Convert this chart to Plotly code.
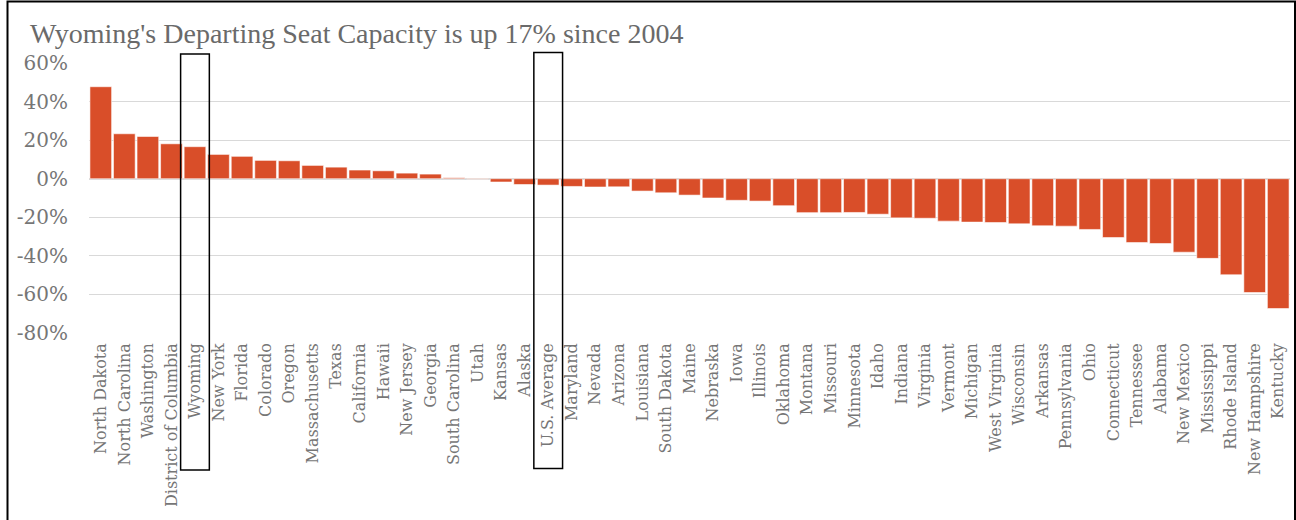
import plotly.graph_objects as go

# Change in departing seat capacity since 2004, by state (percent)
states = [
    "North Dakota", "North Carolina", "Washington", "District of Columbia", "Wyoming",
    "New York", "Florida", "Colorado", "Oregon", "Massachusetts", "Texas", "California",
    "Hawaii", "New Jersey", "Georgia", "South Carolina", "Utah", "Kansas", "Alaska",
    "U.S. Average", "Maryland", "Nevada", "Arizona", "Louisiana", "South Dakota", "Maine",
    "Nebraska", "Iowa", "Illinois", "Oklahoma", "Montana", "Missouri", "Minnesota", "Idaho",
    "Indiana", "Virginia", "Vermont", "Michigan", "West Virginia", "Wisconsin", "Arkansas",
    "Pennsylvania", "Ohio", "Connecticut", "Tennessee", "Alabama", "New Mexico",
    "Mississippi", "Rhode Island", "New Hampshire", "Kentucky",
]
change_pct = [
    47.7, 23.3, 21.9, 18.1, 16.6,
    12.6, 11.6, 9.5, 9.3, 6.9, 6.0, 4.5,
    4.1, 2.9, 2.4, 0.5, -0.2, -1.7, -3.0,
    -3.3, -4.0, -4.3, -4.2, -6.4, -7.3, -8.5,
    -10.0, -11.2, -11.6, -14.0, -17.6, -17.6, -17.5, -18.4,
    -20.3, -20.5, -22.0, -22.5, -22.7, -23.4, -24.4,
    -24.6, -26.3, -30.5, -33.1, -33.6, -38.1,
    -41.3, -49.8, -59.0, -67.3,
]
y_tick_vals = [60, 40, 20, 0, -20, -40, -60, -80]
y_tick_text = ["60%", "40%", "20%", "0%", "-20%", "-40%", "-60%", "-80%"]
highlighted = ["Wyoming", "U.S. Average"]

title_text = "Wyoming's Departing Seat Capacity is up 17% since 2004"

W, H = 1296, 520
ML, MR, MT, MB = 89, 6, 63, 187
PW, PH = W - ML - MR, H - MT - MB

TITLE_FONT = "Liberation Serif"
TICK_FONT = "DejaVu Serif"
GREY = "#767676"
BAR = "#D94E29"


def px_x(px):
    return (px - ML) / PW


def px_y(py):
    return (H - MB - py) / PH


fig = go.Figure(
    go.Bar(
        x=states,
        y=change_pct,
        marker=dict(color=BAR, line=dict(color="rgba(255,255,255,0.7)", width=0.8)),
        hoverinfo="x+y",
    )
)

shapes = []
# outline boxes around highlighted categories
box_tops = {"Wyoming": 54, "U.S. Average": 52.5}
box_bottoms = {"Wyoming": 470, "U.S. Average": 468.5}
for name in highlighted:
    i = states.index(name)
    shapes.append(dict(
        type="rect", xref="x", yref="paper",
        x0=i - 0.61, x1=i + 0.61,
        y0=px_y(box_bottoms[name]), y1=px_y(box_tops[name]),
        line=dict(color="black", width=1.5), fillcolor="rgba(0,0,0,0)", layer="above",
    ))
# frame around the whole chart
shapes.append(dict(
    type="rect", xref="paper", yref="paper",
    x0=px_x(7.5), x1=px_x(1295), y0=px_y(560), y1=px_y(1.5),
    line=dict(color="black", width=2), fillcolor="rgba(0,0,0,0)", layer="above",
))

fig.update_layout(
    width=W, height=H,
    margin=dict(l=ML, r=MR, t=MT, b=MB),
    paper_bgcolor="white", plot_bgcolor="white",
    bargap=0.08,
    showlegend=False,
    font=dict(family=TICK_FONT, color=GREY),
    title=dict(
        text=title_text, x=30 / W, xanchor="left", xref="container",
        y=1 - 33 / H, yanchor="middle",
        font=dict(family=TITLE_FONT, size=28, color="#6a6a6a"),
    ),
    xaxis=dict(
        type="category", tickangle=-90, tickfont=dict(family=TICK_FONT, size=16, color=GREY),
        showgrid=False, showline=False, ticks="", range=[-0.5, len(states) - 0.5],
        ticklabelstandoff=6,
    ),
    yaxis=dict(
        range=[-80, 60], tickvals=y_tick_vals, ticktext=y_tick_text,
        tickfont=dict(family=TICK_FONT, size=20, color=GREY),
        showgrid=True, gridcolor="#D9D9D9", gridwidth=1.3,
        zeroline=True, zerolinecolor="#D9D9D9", zerolinewidth=1.5,
        showline=False, ticks="", ticklabelstandoff=20,
    ),
    shapes=shapes,
)

fig.write_html("out.html")
